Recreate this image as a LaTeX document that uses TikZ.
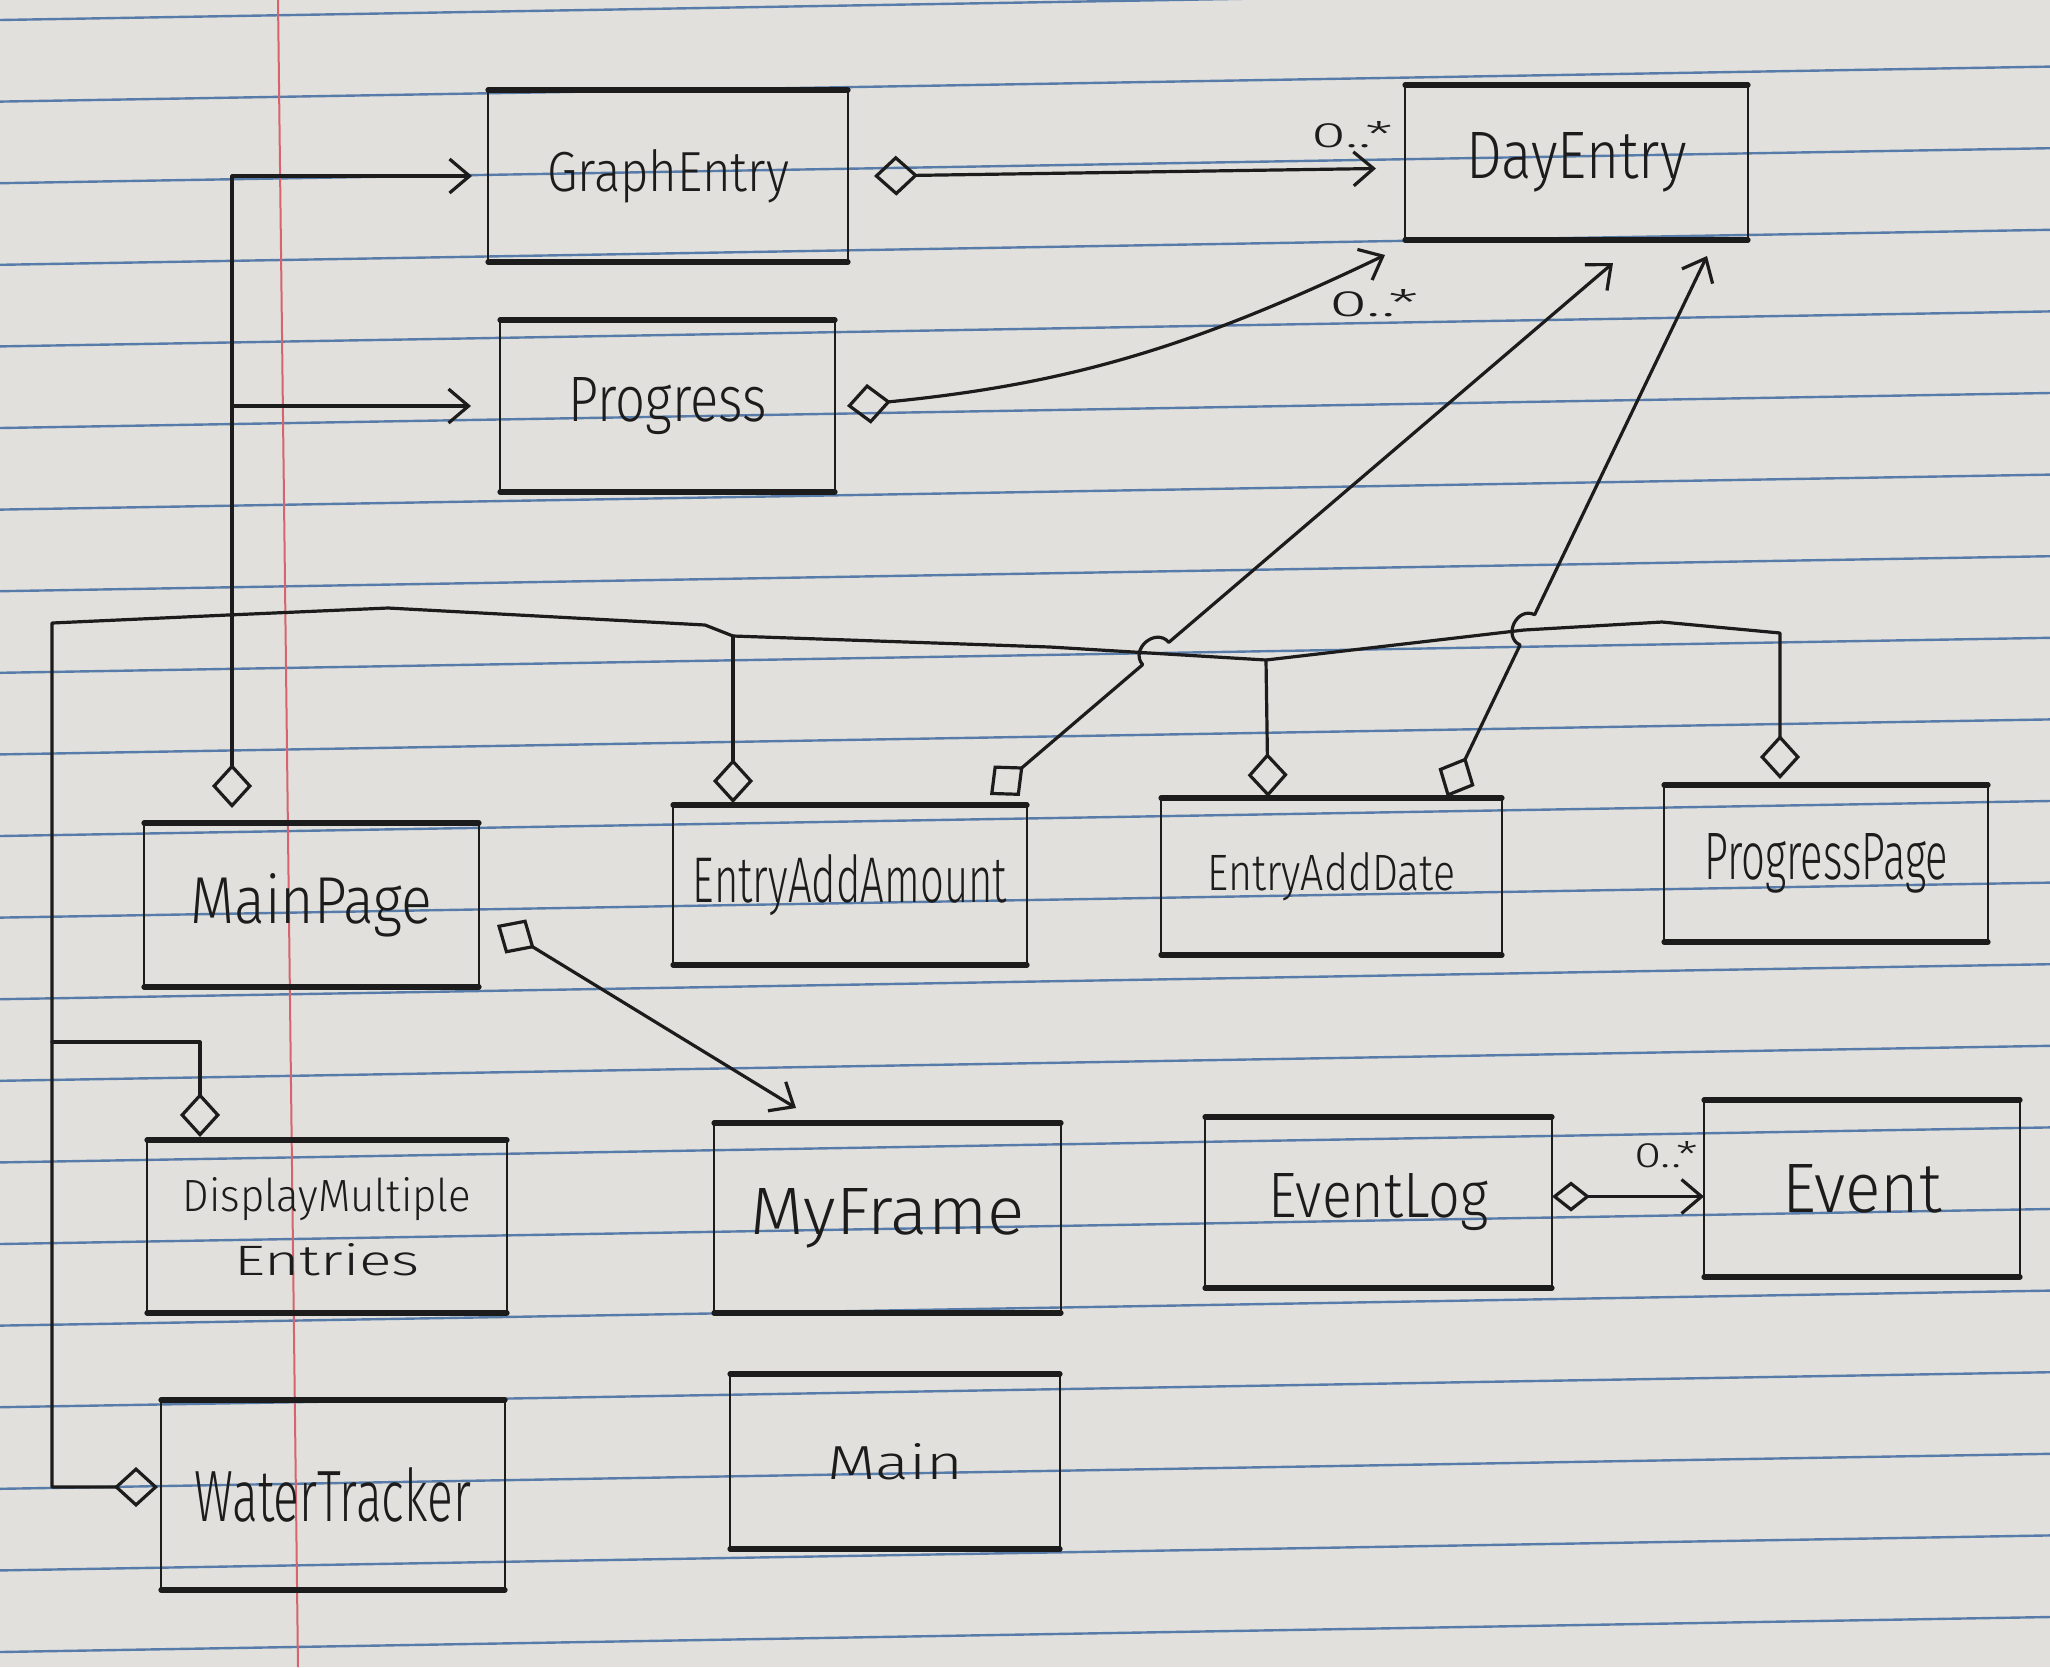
\documentclass[tikz,border=0pt]{standalone}
\usepackage{fontspec}
\usepackage{graphicx}
\setmainfont{Fira Sans Light}
\usetikzlibrary{arrows.meta,calc}
\definecolor{paper}{RGB}{226,224,220}
\definecolor{rulecol}{RGB}{88,124,170}
\definecolor{margincol}{RGB}{214,100,112}
\definecolor{ink}{RGB}{28,28,28}
\newcommand{\hw}[3]{\resizebox{#1}{#2}{#3}}
\tikzset{
  dia/.tip={Diamond[open,length=22pt,width=20pt]},
  smalldia/.tip={Diamond[open,length=19pt,width=15pt]},
  barb/.tip={Straight Barb[length=10pt,width=17pt]},
  cls/.style={draw=ink, line width=1.3pt, inner sep=0pt, outer sep=0pt, text=ink, align=center, font=\fontsize{20}{24}\selectfont},
  link/.style={draw=ink, line width=1.6pt, line join=round, line cap=round},
  mult/.style={text=ink, inner sep=0pt, font=\fontsize{20}{24}\selectfont},
  edgeline/.style={draw=ink, line width=2.6pt, line cap=round},
}
\begin{document}
\begin{tikzpicture}[x=0.5pt,y=-0.5pt]
% paper
\fill[paper] (0,0) rectangle (2050,1667);
\useasboundingbox (0,0) rectangle (2050,1667);
\foreach \k in {0,...,20}
  \draw[rulecol, line width=1.2pt] (0,{20+81.6*\k}) -- (2050,{20+81.6*\k-35});
\draw[margincol, line width=1pt] (278,0) -- (298,1667);

% classes
\node[cls, minimum width=180pt,   minimum height=86pt]   (GE)  at (668,176)      {\hw{121pt}{21pt}{GraphEntry}};
\node[cls, minimum width=171.5pt, minimum height=77.5pt] (DE)  at (1576.5,162.5) {\hw{110pt}{23pt}{DayEntry}};
\node[cls, minimum width=167.5pt, minimum height=86pt]   (PR)  at (667.5,406)    {\hw{99pt}{22pt}{Progress}};
\node[cls, minimum width=167.5pt, minimum height=82pt]   (MP)  at (311.5,905)    {\hw{121pt}{25pt}{MainPage}};
\node[cls, minimum width=177pt,   minimum height=80pt]   (EAA) at (850,885)      {\hw{157pt}{24pt}{EntryAddAmount}};
\node[cls, minimum width=170.5pt, minimum height=78.5pt] (EAD) at (1331.5,876.5) {\hw{124pt}{19pt}{EntryAddDate}};
\node[cls, minimum width=162pt,   minimum height=78.5pt] (PP)  at (1826,863.5)   {\hw{122pt}{23pt}{ProgressPage}};
\node[cls, minimum width=180pt,   minimum height=86.5pt, font=\fontsize{20}{32}\selectfont] (DME) at (327,1226.5) {\hw{144pt}{17pt}{DisplayMultiple}\\\hw{93pt}{16pt}{Entries}};
\node[cls, minimum width=173.5pt, minimum height=95pt]   (MF)  at (887.5,1218)   {\hw{137pt}{23pt}{MyFrame}};
\node[cls, minimum width=173.5pt, minimum height=85.5pt] (EL)  at (1378.5,1202.5){\hw{110pt}{22pt}{EventLog}};
\node[cls, minimum width=158pt,   minimum height=88.5pt] (EV)  at (1862,1188.5)  {\hw{80pt}{24pt}{Event}};
\node[cls, minimum width=172pt,   minimum height=95pt]   (WT)  at (333,1495)     {\hw{138pt}{27pt}{WaterTracker}};
\node[cls, minimum width=165pt,   minimum height=87.5pt] (MN)  at (895,1461.5)   {\hw{68pt}{18pt}{Main}};

\foreach \n in {GE,DE,PR,MP,EAA,EAD,PP,DME,MF,EL,EV,WT,MN}{
  \draw[edgeline] (\n.north west) -- (\n.north east);
  \draw[edgeline] (\n.south west) -- (\n.south east);
}

% multiplicities
\node[mult] (m1) at (1352,135)  {\hw{41pt}{13pt}{0..*}};
\node[mult] (m2) at (1374,303)  {\hw{45pt}{13.5pt}{0..*}};
\node[mult] (m3) at (1666,1155) {\hw{32pt}{13pt}{0..*}};

% GraphEntry -> DayEntry
\coordinate (geS) at ([xshift=13pt]GE.east);
\coordinate (deA) at ([xshift=-14.5pt,yshift=-3pt]DE.west);
\draw[link,{dia}-{barb}] (geS) -- (deA);

% Progress -> DayEntry
\coordinate (prS) at ([xshift=6pt]PR.east);
\coordinate (deB) at ([xshift=-10pt,yshift=-7.5pt]DE.south west);
\draw[link,{dia}-{barb}] (prS) to[bend right=10] (deB);

% MainPage -> GraphEntry, Progress
\coordinate (mpT) at ([xshift=-39.75pt,yshift=7.5pt]MP.north);
\draw[link,{dia}-{barb}] (mpT) |- ([xshift=-8pt]GE.west);
\draw[link,-{barb}] (mpT |- PR.west) -- ([xshift=-14.5pt]PR.west);

% bus
\coordinate (bL) at (52,623);
\coordinate (ba) at (228,615);
\coordinate (bb) at (388,608);
\coordinate (bc) at (705,625);
\coordinate (b1) at (733,636);
\coordinate (bd) at (1050,647);
\coordinate (b2) at (1266,660);
\coordinate (be) at (1524,630);
\coordinate (bf) at (1662,622);
\coordinate (b3) at (1780,633);
\coordinate (bD) at (52,1042);
\coordinate (wtS) at ([xshift=-1.5pt,yshift=4pt]WT.west);
\coordinate (ppE) at ([xshift=-23pt,yshift=3pt]PP.north);
\draw[link,{dia}-{dia}] (wtS) -| (bL) -- (ba) -- (bb) -- (bc) -- (b1) -- (bd) -- (b2) -- (be) -- (bf) -- (b3) -- (ppE);
\coordinate (dmE) at ([xshift=-63.5pt,yshift=1.5pt]DME.north);
\draw[link,-{dia}] (bD) -| (dmE);
\coordinate (eaaE) at ([xshift=-58.5pt,yshift=1pt]EAA.north);
\draw[link,-{dia}] (b1) -- (eaaE);
\coordinate (eadE) at ([xshift=-31.75pt,yshift=0.5pt]EAD.north);
\draw[link,-{dia}] (b2) -- (eadE);

% EntryAddAmount -> DayEntry, EntryAddDate -> DayEntry (with hops)
\coordinate (d1S) at ([xshift=-18.5pt,yshift=5pt]EAA.north east);
\coordinate (d1E) at ([xshift=104pt,yshift=-11.5pt]DE.south west);
\draw[link,{dia}-{barb}] (d1S) -- ($(d1S)!0.245!(d1E)$) to[bend left=90,looseness=1.5] ($(d1S)!0.287!(d1E)$) -- (d1E);
\coordinate (d2S) at ([xshift=57.75pt,yshift=0.5pt]EAD.north);
\coordinate (d2E) at ([xshift=-20.5pt,yshift=-8pt]DE.south east);
\draw[link,{dia}-{barb}] (d2S) -- ($(d2S)!0.281!(d2E)$) to[bend left=90,looseness=1.5] ($(d2S)!0.337!(d2E)$) -- (d2E);

% MainPage -> MyFrame
\coordinate (mpS) at ([xshift=9pt,yshift=-10pt]MP.east);
\coordinate (mfE) at ([xshift=-45.75pt,yshift=7.5pt]MF.north);
\draw[link,{dia}-{barb}] (mpS) -- (mfE);

% EventLog -> Event
\coordinate (elS) at ([yshift=3pt]EL.east);
\draw[link,{smalldia}-{barb}] (elS) -- (elS -| EV.west);
\end{tikzpicture}
\end{document}
